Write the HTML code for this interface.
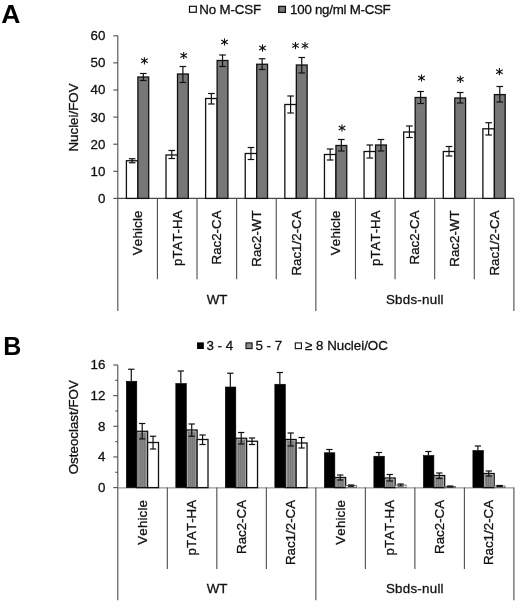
<!DOCTYPE html>
<html><head><meta charset="utf-8"><title>Figure</title>
<style>
html,body{margin:0;padding:0;background:#fff;}
body{width:520px;height:608px;overflow:hidden;}
svg{display:block;will-change:transform;font-family:"Liberation Sans",sans-serif;font-kerning:none;}
</style></head>
<body>
<svg width="520" height="608" viewBox="0 0 520 608">
<rect x="0" y="0" width="520" height="608" fill="#ffffff"/>
<defs><pattern id="hatch" width="2" height="2" patternUnits="userSpaceOnUse"><rect width="2" height="2" fill="#888888"/><rect width="1" height="2" fill="#787878"/></pattern></defs>
<text x="1.30" y="22.80" font-size="26.5" font-weight="bold" text-anchor="start" fill="#000" stroke="#000" stroke-width="0" letter-spacing="0">A</text>
<rect x="189.50" y="6.30" width="6.80" height="6.00" fill="#fff" stroke="#111111" stroke-width="1.2"/>
<text x="199.30" y="13.80" font-size="13.33" font-weight="normal" text-anchor="start" fill="#111" stroke="#111" stroke-width="0.3" letter-spacing="-0.15">No M-CSF</text>
<rect x="278.70" y="6.40" width="6.70" height="6.00" fill="#7a7a7a" stroke="#111111" stroke-width="1.3"/>
<text x="290.10" y="13.70" font-size="13.33" font-weight="normal" text-anchor="start" fill="#111" stroke="#111" stroke-width="0.3" letter-spacing="-0.27">100 ng/ml M-CSF</text>
<line x1="117.80" y1="35.80" x2="117.80" y2="311.00" stroke="#4c4c4c" stroke-width="1.1"/>
<line x1="113.30" y1="198.40" x2="117.80" y2="198.40" stroke="#4c4c4c" stroke-width="1.1"/>
<text x="105.30" y="202.80" font-size="13.33" font-weight="normal" text-anchor="end" fill="#111" stroke="#111" stroke-width="0.3" letter-spacing="0">0</text>
<line x1="113.30" y1="171.30" x2="117.80" y2="171.30" stroke="#4c4c4c" stroke-width="1.1"/>
<text x="105.30" y="175.70" font-size="13.33" font-weight="normal" text-anchor="end" fill="#111" stroke="#111" stroke-width="0.3" letter-spacing="0">10</text>
<line x1="113.30" y1="144.20" x2="117.80" y2="144.20" stroke="#4c4c4c" stroke-width="1.1"/>
<text x="105.30" y="148.60" font-size="13.33" font-weight="normal" text-anchor="end" fill="#111" stroke="#111" stroke-width="0.3" letter-spacing="0">20</text>
<line x1="113.30" y1="117.10" x2="117.80" y2="117.10" stroke="#4c4c4c" stroke-width="1.1"/>
<text x="105.30" y="121.50" font-size="13.33" font-weight="normal" text-anchor="end" fill="#111" stroke="#111" stroke-width="0.3" letter-spacing="0">30</text>
<line x1="113.30" y1="90.00" x2="117.80" y2="90.00" stroke="#4c4c4c" stroke-width="1.1"/>
<text x="105.30" y="94.40" font-size="13.33" font-weight="normal" text-anchor="end" fill="#111" stroke="#111" stroke-width="0.3" letter-spacing="0">40</text>
<line x1="113.30" y1="62.90" x2="117.80" y2="62.90" stroke="#4c4c4c" stroke-width="1.1"/>
<text x="105.30" y="67.30" font-size="13.33" font-weight="normal" text-anchor="end" fill="#111" stroke="#111" stroke-width="0.3" letter-spacing="0">50</text>
<line x1="113.30" y1="35.80" x2="117.80" y2="35.80" stroke="#4c4c4c" stroke-width="1.1"/>
<text x="105.30" y="40.20" font-size="13.33" font-weight="normal" text-anchor="end" fill="#111" stroke="#111" stroke-width="0.3" letter-spacing="0">60</text>
<text x="78.20" y="117.50" font-size="13.33" font-weight="normal" text-anchor="middle" fill="#111" stroke="#111" stroke-width="0.3" letter-spacing="0" transform="rotate(-90 78.20 117.50)">Nuclei/FOV</text>
<line x1="117.80" y1="198.40" x2="513.90" y2="198.40" stroke="#4c4c4c" stroke-width="1.1"/>
<line x1="157.41" y1="198.40" x2="157.41" y2="279.30" stroke="#4c4c4c" stroke-width="1.1"/>
<line x1="197.02" y1="198.40" x2="197.02" y2="279.30" stroke="#4c4c4c" stroke-width="1.1"/>
<line x1="236.63" y1="198.40" x2="236.63" y2="279.30" stroke="#4c4c4c" stroke-width="1.1"/>
<line x1="276.24" y1="198.40" x2="276.24" y2="279.30" stroke="#4c4c4c" stroke-width="1.1"/>
<line x1="315.85" y1="198.40" x2="315.85" y2="311.00" stroke="#4c4c4c" stroke-width="1.1"/>
<line x1="355.46" y1="198.40" x2="355.46" y2="279.30" stroke="#4c4c4c" stroke-width="1.1"/>
<line x1="395.07" y1="198.40" x2="395.07" y2="279.30" stroke="#4c4c4c" stroke-width="1.1"/>
<line x1="434.68" y1="198.40" x2="434.68" y2="279.30" stroke="#4c4c4c" stroke-width="1.1"/>
<line x1="474.29" y1="198.40" x2="474.29" y2="279.30" stroke="#4c4c4c" stroke-width="1.1"/>
<line x1="513.90" y1="198.40" x2="513.90" y2="311.00" stroke="#4c4c4c" stroke-width="1.1"/>
<rect x="126.40" y="160.75" width="11.50" height="37.65" fill="#fff" stroke="#111111" stroke-width="1.3"/>
<rect x="137.90" y="77.00" width="10.80" height="121.40" fill="#777777" stroke="#111111" stroke-width="1.3"/>
<line x1="132.15" y1="158.75" x2="132.15" y2="162.75" stroke="#111" stroke-width="1.2"/>
<line x1="128.85" y1="158.75" x2="135.45" y2="158.75" stroke="#111" stroke-width="1.2"/>
<line x1="128.85" y1="162.75" x2="135.45" y2="162.75" stroke="#111" stroke-width="1.2"/>
<line x1="143.30" y1="73.50" x2="143.30" y2="80.50" stroke="#111" stroke-width="1.2"/>
<line x1="140.00" y1="73.50" x2="146.60" y2="73.50" stroke="#111" stroke-width="1.2"/>
<line x1="140.00" y1="80.50" x2="146.60" y2="80.50" stroke="#111" stroke-width="1.2"/>
<rect x="166.01" y="155.00" width="11.50" height="43.40" fill="#fff" stroke="#111111" stroke-width="1.3"/>
<rect x="177.51" y="74.00" width="10.80" height="124.40" fill="#777777" stroke="#111111" stroke-width="1.3"/>
<line x1="171.76" y1="150.50" x2="171.76" y2="158.50" stroke="#111" stroke-width="1.2"/>
<line x1="168.46" y1="150.50" x2="175.06" y2="150.50" stroke="#111" stroke-width="1.2"/>
<line x1="168.46" y1="158.50" x2="175.06" y2="158.50" stroke="#111" stroke-width="1.2"/>
<line x1="182.91" y1="66.50" x2="182.91" y2="82.50" stroke="#111" stroke-width="1.2"/>
<line x1="179.61" y1="66.50" x2="186.21" y2="66.50" stroke="#111" stroke-width="1.2"/>
<line x1="179.61" y1="82.50" x2="186.21" y2="82.50" stroke="#111" stroke-width="1.2"/>
<rect x="205.62" y="98.50" width="11.50" height="99.90" fill="#fff" stroke="#111111" stroke-width="1.3"/>
<rect x="217.12" y="60.50" width="10.80" height="137.90" fill="#777777" stroke="#111111" stroke-width="1.3"/>
<line x1="211.37" y1="93.50" x2="211.37" y2="104.00" stroke="#111" stroke-width="1.2"/>
<line x1="208.07" y1="93.50" x2="214.67" y2="93.50" stroke="#111" stroke-width="1.2"/>
<line x1="208.07" y1="104.00" x2="214.67" y2="104.00" stroke="#111" stroke-width="1.2"/>
<line x1="222.52" y1="55.00" x2="222.52" y2="66.50" stroke="#111" stroke-width="1.2"/>
<line x1="219.22" y1="55.00" x2="225.82" y2="55.00" stroke="#111" stroke-width="1.2"/>
<line x1="219.22" y1="66.50" x2="225.82" y2="66.50" stroke="#111" stroke-width="1.2"/>
<rect x="245.23" y="153.50" width="11.50" height="44.90" fill="#fff" stroke="#111111" stroke-width="1.3"/>
<rect x="256.73" y="64.25" width="10.80" height="134.15" fill="#777777" stroke="#111111" stroke-width="1.3"/>
<line x1="250.98" y1="147.50" x2="250.98" y2="159.50" stroke="#111" stroke-width="1.2"/>
<line x1="247.68" y1="147.50" x2="254.28" y2="147.50" stroke="#111" stroke-width="1.2"/>
<line x1="247.68" y1="159.50" x2="254.28" y2="159.50" stroke="#111" stroke-width="1.2"/>
<line x1="262.13" y1="58.75" x2="262.13" y2="69.50" stroke="#111" stroke-width="1.2"/>
<line x1="258.83" y1="58.75" x2="265.43" y2="58.75" stroke="#111" stroke-width="1.2"/>
<line x1="258.83" y1="69.50" x2="265.43" y2="69.50" stroke="#111" stroke-width="1.2"/>
<rect x="284.84" y="104.50" width="11.50" height="93.90" fill="#fff" stroke="#111111" stroke-width="1.3"/>
<rect x="296.34" y="65.00" width="10.80" height="133.40" fill="#777777" stroke="#111111" stroke-width="1.3"/>
<line x1="290.59" y1="96.00" x2="290.59" y2="113.00" stroke="#111" stroke-width="1.2"/>
<line x1="287.29" y1="96.00" x2="293.89" y2="96.00" stroke="#111" stroke-width="1.2"/>
<line x1="287.29" y1="113.00" x2="293.89" y2="113.00" stroke="#111" stroke-width="1.2"/>
<line x1="301.74" y1="57.50" x2="301.74" y2="73.00" stroke="#111" stroke-width="1.2"/>
<line x1="298.44" y1="57.50" x2="305.04" y2="57.50" stroke="#111" stroke-width="1.2"/>
<line x1="298.44" y1="73.00" x2="305.04" y2="73.00" stroke="#111" stroke-width="1.2"/>
<rect x="324.45" y="154.50" width="11.50" height="43.90" fill="#fff" stroke="#111111" stroke-width="1.3"/>
<rect x="335.95" y="145.50" width="10.80" height="52.90" fill="#777777" stroke="#111111" stroke-width="1.3"/>
<line x1="330.20" y1="149.00" x2="330.20" y2="160.00" stroke="#111" stroke-width="1.2"/>
<line x1="326.90" y1="149.00" x2="333.50" y2="149.00" stroke="#111" stroke-width="1.2"/>
<line x1="326.90" y1="160.00" x2="333.50" y2="160.00" stroke="#111" stroke-width="1.2"/>
<line x1="341.35" y1="139.50" x2="341.35" y2="151.00" stroke="#111" stroke-width="1.2"/>
<line x1="338.05" y1="139.50" x2="344.65" y2="139.50" stroke="#111" stroke-width="1.2"/>
<line x1="338.05" y1="151.00" x2="344.65" y2="151.00" stroke="#111" stroke-width="1.2"/>
<rect x="364.06" y="151.50" width="11.50" height="46.90" fill="#fff" stroke="#111111" stroke-width="1.3"/>
<rect x="375.56" y="145.00" width="10.80" height="53.40" fill="#777777" stroke="#111111" stroke-width="1.3"/>
<line x1="369.81" y1="145.00" x2="369.81" y2="158.00" stroke="#111" stroke-width="1.2"/>
<line x1="366.51" y1="145.00" x2="373.11" y2="145.00" stroke="#111" stroke-width="1.2"/>
<line x1="366.51" y1="158.00" x2="373.11" y2="158.00" stroke="#111" stroke-width="1.2"/>
<line x1="380.96" y1="139.50" x2="380.96" y2="151.00" stroke="#111" stroke-width="1.2"/>
<line x1="377.66" y1="139.50" x2="384.26" y2="139.50" stroke="#111" stroke-width="1.2"/>
<line x1="377.66" y1="151.00" x2="384.26" y2="151.00" stroke="#111" stroke-width="1.2"/>
<rect x="403.67" y="132.00" width="11.50" height="66.40" fill="#fff" stroke="#111111" stroke-width="1.3"/>
<rect x="415.17" y="97.50" width="10.80" height="100.90" fill="#777777" stroke="#111111" stroke-width="1.3"/>
<line x1="409.42" y1="126.00" x2="409.42" y2="137.50" stroke="#111" stroke-width="1.2"/>
<line x1="406.12" y1="126.00" x2="412.72" y2="126.00" stroke="#111" stroke-width="1.2"/>
<line x1="406.12" y1="137.50" x2="412.72" y2="137.50" stroke="#111" stroke-width="1.2"/>
<line x1="420.57" y1="91.50" x2="420.57" y2="103.50" stroke="#111" stroke-width="1.2"/>
<line x1="417.27" y1="91.50" x2="423.87" y2="91.50" stroke="#111" stroke-width="1.2"/>
<line x1="417.27" y1="103.50" x2="423.87" y2="103.50" stroke="#111" stroke-width="1.2"/>
<rect x="443.28" y="151.50" width="11.50" height="46.90" fill="#fff" stroke="#111111" stroke-width="1.3"/>
<rect x="454.78" y="98.00" width="10.80" height="100.40" fill="#777777" stroke="#111111" stroke-width="1.3"/>
<line x1="449.03" y1="146.50" x2="449.03" y2="156.00" stroke="#111" stroke-width="1.2"/>
<line x1="445.73" y1="146.50" x2="452.33" y2="146.50" stroke="#111" stroke-width="1.2"/>
<line x1="445.73" y1="156.00" x2="452.33" y2="156.00" stroke="#111" stroke-width="1.2"/>
<line x1="460.18" y1="92.50" x2="460.18" y2="103.00" stroke="#111" stroke-width="1.2"/>
<line x1="456.88" y1="92.50" x2="463.48" y2="92.50" stroke="#111" stroke-width="1.2"/>
<line x1="456.88" y1="103.00" x2="463.48" y2="103.00" stroke="#111" stroke-width="1.2"/>
<rect x="482.89" y="128.80" width="11.50" height="69.60" fill="#fff" stroke="#111111" stroke-width="1.3"/>
<rect x="494.39" y="94.60" width="10.80" height="103.80" fill="#777777" stroke="#111111" stroke-width="1.3"/>
<line x1="488.64" y1="122.70" x2="488.64" y2="135.00" stroke="#111" stroke-width="1.2"/>
<line x1="485.34" y1="122.70" x2="491.94" y2="122.70" stroke="#111" stroke-width="1.2"/>
<line x1="485.34" y1="135.00" x2="491.94" y2="135.00" stroke="#111" stroke-width="1.2"/>
<line x1="499.79" y1="86.50" x2="499.79" y2="102.00" stroke="#111" stroke-width="1.2"/>
<line x1="496.49" y1="86.50" x2="503.09" y2="86.50" stroke="#111" stroke-width="1.2"/>
<line x1="496.49" y1="102.00" x2="503.09" y2="102.00" stroke="#111" stroke-width="1.2"/>
<line x1="144.40" y1="57.20" x2="144.40" y2="64.40" stroke="#111" stroke-width="1.1"/>
<line x1="141.09" y1="58.82" x2="147.71" y2="62.78" stroke="#111" stroke-width="1.1"/>
<line x1="141.09" y1="62.78" x2="147.71" y2="58.82" stroke="#111" stroke-width="1.1"/>
<line x1="183.70" y1="51.90" x2="183.70" y2="59.10" stroke="#111" stroke-width="1.1"/>
<line x1="180.39" y1="53.52" x2="187.01" y2="57.48" stroke="#111" stroke-width="1.1"/>
<line x1="180.39" y1="57.48" x2="187.01" y2="53.52" stroke="#111" stroke-width="1.1"/>
<line x1="224.50" y1="38.40" x2="224.50" y2="45.60" stroke="#111" stroke-width="1.1"/>
<line x1="221.19" y1="40.02" x2="227.81" y2="43.98" stroke="#111" stroke-width="1.1"/>
<line x1="221.19" y1="43.98" x2="227.81" y2="40.02" stroke="#111" stroke-width="1.1"/>
<line x1="262.50" y1="44.40" x2="262.50" y2="51.60" stroke="#111" stroke-width="1.1"/>
<line x1="259.19" y1="46.02" x2="265.81" y2="49.98" stroke="#111" stroke-width="1.1"/>
<line x1="259.19" y1="49.98" x2="265.81" y2="46.02" stroke="#111" stroke-width="1.1"/>
<line x1="295.50" y1="42.00" x2="295.50" y2="49.20" stroke="#111" stroke-width="1.1"/>
<line x1="292.19" y1="43.62" x2="298.81" y2="47.58" stroke="#111" stroke-width="1.1"/>
<line x1="292.19" y1="47.58" x2="298.81" y2="43.62" stroke="#111" stroke-width="1.1"/>
<line x1="305.00" y1="42.00" x2="305.00" y2="49.20" stroke="#111" stroke-width="1.1"/>
<line x1="301.69" y1="43.62" x2="308.31" y2="47.58" stroke="#111" stroke-width="1.1"/>
<line x1="301.69" y1="47.58" x2="308.31" y2="43.62" stroke="#111" stroke-width="1.1"/>
<line x1="342.00" y1="124.40" x2="342.00" y2="131.60" stroke="#111" stroke-width="1.1"/>
<line x1="338.69" y1="126.02" x2="345.31" y2="129.98" stroke="#111" stroke-width="1.1"/>
<line x1="338.69" y1="129.98" x2="345.31" y2="126.02" stroke="#111" stroke-width="1.1"/>
<line x1="421.50" y1="74.40" x2="421.50" y2="81.60" stroke="#111" stroke-width="1.1"/>
<line x1="418.19" y1="76.02" x2="424.81" y2="79.98" stroke="#111" stroke-width="1.1"/>
<line x1="418.19" y1="79.98" x2="424.81" y2="76.02" stroke="#111" stroke-width="1.1"/>
<line x1="460.30" y1="75.70" x2="460.30" y2="82.90" stroke="#111" stroke-width="1.1"/>
<line x1="456.99" y1="77.32" x2="463.61" y2="81.28" stroke="#111" stroke-width="1.1"/>
<line x1="456.99" y1="81.28" x2="463.61" y2="77.32" stroke="#111" stroke-width="1.1"/>
<line x1="499.40" y1="68.10" x2="499.40" y2="75.30" stroke="#111" stroke-width="1.1"/>
<line x1="496.09" y1="69.72" x2="502.71" y2="73.68" stroke="#111" stroke-width="1.1"/>
<line x1="496.09" y1="73.68" x2="502.71" y2="69.72" stroke="#111" stroke-width="1.1"/>
<text x="142.20" y="210.40" font-size="13.33" font-weight="normal" text-anchor="end" fill="#111" stroke="#111" stroke-width="0.3" letter-spacing="0.15" transform="rotate(-90 142.20 210.40)">Vehicle</text>
<text x="181.81" y="210.40" font-size="13.33" font-weight="normal" text-anchor="end" fill="#111" stroke="#111" stroke-width="0.3" letter-spacing="0" transform="rotate(-90 181.81 210.40)">pTAT-HA</text>
<text x="221.42" y="210.40" font-size="13.33" font-weight="normal" text-anchor="end" fill="#111" stroke="#111" stroke-width="0.3" letter-spacing="0" transform="rotate(-90 221.42 210.40)">Rac2-CA</text>
<text x="261.04" y="210.40" font-size="13.33" font-weight="normal" text-anchor="end" fill="#111" stroke="#111" stroke-width="0.3" letter-spacing="0" transform="rotate(-90 261.04 210.40)">Rac2-WT</text>
<text x="300.65" y="210.40" font-size="13.33" font-weight="normal" text-anchor="end" fill="#111" stroke="#111" stroke-width="0.3" letter-spacing="0" transform="rotate(-90 300.65 210.40)">Rac1/2-CA</text>
<text x="340.25" y="210.40" font-size="13.33" font-weight="normal" text-anchor="end" fill="#111" stroke="#111" stroke-width="0.3" letter-spacing="0.15" transform="rotate(-90 340.25 210.40)">Vehicle</text>
<text x="379.87" y="210.40" font-size="13.33" font-weight="normal" text-anchor="end" fill="#111" stroke="#111" stroke-width="0.3" letter-spacing="0" transform="rotate(-90 379.87 210.40)">pTAT-HA</text>
<text x="419.48" y="210.40" font-size="13.33" font-weight="normal" text-anchor="end" fill="#111" stroke="#111" stroke-width="0.3" letter-spacing="0" transform="rotate(-90 419.48 210.40)">Rac2-CA</text>
<text x="459.09" y="210.40" font-size="13.33" font-weight="normal" text-anchor="end" fill="#111" stroke="#111" stroke-width="0.3" letter-spacing="0" transform="rotate(-90 459.09 210.40)">Rac2-WT</text>
<text x="498.70" y="210.40" font-size="13.33" font-weight="normal" text-anchor="end" fill="#111" stroke="#111" stroke-width="0.3" letter-spacing="0" transform="rotate(-90 498.70 210.40)">Rac1/2-CA</text>
<text x="217.00" y="304.00" font-size="13.33" font-weight="normal" text-anchor="middle" fill="#111" stroke="#111" stroke-width="0.3" letter-spacing="0">WT</text>
<text x="414.90" y="304.00" font-size="13.33" font-weight="normal" text-anchor="middle" fill="#111" stroke="#111" stroke-width="0.3" letter-spacing="0.25">Sbds-null</text>
<text x="3.20" y="354.70" font-size="25" font-weight="bold" text-anchor="start" fill="#000" stroke="#000" stroke-width="0" letter-spacing="0">B</text>
<rect x="197.60" y="342.90" width="5.70" height="5.60" fill="#000" stroke="#000" stroke-width="1"/>
<text x="206.50" y="350.20" font-size="13.33" font-weight="normal" text-anchor="start" fill="#111" stroke="#111" stroke-width="0.3" letter-spacing="0">3 - 4</text>
<rect x="246.00" y="342.90" width="6.10" height="5.70" fill="#8a8a8a" stroke="#111111" stroke-width="1.1"/>
<text x="255.50" y="350.20" font-size="13.33" font-weight="normal" text-anchor="start" fill="#111" stroke="#111" stroke-width="0.3" letter-spacing="0">5 - 7</text>
<rect x="295.30" y="342.90" width="6.10" height="5.70" fill="#fff" stroke="#111111" stroke-width="1.1"/>
<text x="305.00" y="350.20" font-size="13.33" font-weight="normal" text-anchor="start" fill="#111" stroke="#111" stroke-width="0.3" letter-spacing="0">≥ 8 Nuclei/OC</text>
<line x1="117.80" y1="365.00" x2="117.80" y2="600.30" stroke="#4c4c4c" stroke-width="1.1"/>
<line x1="113.30" y1="487.60" x2="117.80" y2="487.60" stroke="#4c4c4c" stroke-width="1.1"/>
<text x="105.30" y="492.00" font-size="13.33" font-weight="normal" text-anchor="end" fill="#111" stroke="#111" stroke-width="0.3" letter-spacing="0">0</text>
<line x1="115.30" y1="472.28" x2="117.80" y2="472.28" stroke="#4c4c4c" stroke-width="1.1"/>
<line x1="113.30" y1="456.95" x2="117.80" y2="456.95" stroke="#4c4c4c" stroke-width="1.1"/>
<text x="105.30" y="461.35" font-size="13.33" font-weight="normal" text-anchor="end" fill="#111" stroke="#111" stroke-width="0.3" letter-spacing="0">4</text>
<line x1="115.30" y1="441.62" x2="117.80" y2="441.62" stroke="#4c4c4c" stroke-width="1.1"/>
<line x1="113.30" y1="426.30" x2="117.80" y2="426.30" stroke="#4c4c4c" stroke-width="1.1"/>
<text x="105.30" y="430.70" font-size="13.33" font-weight="normal" text-anchor="end" fill="#111" stroke="#111" stroke-width="0.3" letter-spacing="0">8</text>
<line x1="115.30" y1="410.98" x2="117.80" y2="410.98" stroke="#4c4c4c" stroke-width="1.1"/>
<line x1="113.30" y1="395.65" x2="117.80" y2="395.65" stroke="#4c4c4c" stroke-width="1.1"/>
<text x="105.30" y="400.05" font-size="13.33" font-weight="normal" text-anchor="end" fill="#111" stroke="#111" stroke-width="0.3" letter-spacing="0">12</text>
<line x1="115.30" y1="380.32" x2="117.80" y2="380.32" stroke="#4c4c4c" stroke-width="1.1"/>
<line x1="113.30" y1="365.00" x2="117.80" y2="365.00" stroke="#4c4c4c" stroke-width="1.1"/>
<text x="105.30" y="369.40" font-size="13.33" font-weight="normal" text-anchor="end" fill="#111" stroke="#111" stroke-width="0.3" letter-spacing="0">16</text>
<text x="78.00" y="427.20" font-size="13.33" font-weight="normal" text-anchor="middle" fill="#111" stroke="#111" stroke-width="0.3" letter-spacing="0" transform="rotate(-90 78.00 427.20)">Osteoclast/FOV</text>
<line x1="117.30" y1="487.90" x2="513.90" y2="487.90" stroke="#808080" stroke-width="1.0"/>
<line x1="167.31" y1="487.60" x2="167.31" y2="569.00" stroke="#4c4c4c" stroke-width="1.1"/>
<line x1="216.82" y1="487.60" x2="216.82" y2="569.00" stroke="#4c4c4c" stroke-width="1.1"/>
<line x1="266.34" y1="487.60" x2="266.34" y2="569.00" stroke="#4c4c4c" stroke-width="1.1"/>
<line x1="315.85" y1="487.60" x2="315.85" y2="600.30" stroke="#4c4c4c" stroke-width="1.1"/>
<line x1="365.36" y1="487.60" x2="365.36" y2="569.00" stroke="#4c4c4c" stroke-width="1.1"/>
<line x1="414.88" y1="487.60" x2="414.88" y2="569.00" stroke="#4c4c4c" stroke-width="1.1"/>
<line x1="464.39" y1="487.60" x2="464.39" y2="569.00" stroke="#4c4c4c" stroke-width="1.1"/>
<line x1="513.90" y1="487.60" x2="513.90" y2="600.30" stroke="#4c4c4c" stroke-width="1.1"/>
<rect x="126.30" y="381.25" width="10.50" height="106.35" fill="#000" stroke="#000" stroke-width="0.6"/>
<rect x="136.80" y="431.30" width="10.80" height="56.30" fill="url(#hatch)" stroke="#111111" stroke-width="1.3"/>
<path d="M137.90 487.00 V432.40 H146.50 V487.00" fill="none" stroke="#b4b4b4" stroke-width="0.8"/>
<rect x="147.60" y="442.50" width="10.90" height="45.10" fill="#fff" stroke="#111111" stroke-width="1.3"/>
<line x1="131.30" y1="369.25" x2="131.30" y2="381.25" stroke="#111" stroke-width="1.2"/>
<line x1="128.15" y1="369.25" x2="134.45" y2="369.25" stroke="#111" stroke-width="1.2"/>
<line x1="142.20" y1="423.50" x2="142.20" y2="438.90" stroke="#111" stroke-width="1.2"/>
<line x1="139.05" y1="423.50" x2="145.35" y2="423.50" stroke="#111" stroke-width="1.2"/>
<line x1="139.05" y1="438.90" x2="145.35" y2="438.90" stroke="#111" stroke-width="1.2"/>
<line x1="153.05" y1="436.25" x2="153.05" y2="449.00" stroke="#111" stroke-width="1.2"/>
<line x1="149.90" y1="436.25" x2="156.20" y2="436.25" stroke="#111" stroke-width="1.2"/>
<line x1="149.90" y1="449.00" x2="156.20" y2="449.00" stroke="#111" stroke-width="1.2"/>
<rect x="175.81" y="383.50" width="10.50" height="104.10" fill="#000" stroke="#000" stroke-width="0.6"/>
<rect x="186.31" y="430.00" width="10.80" height="57.60" fill="url(#hatch)" stroke="#111111" stroke-width="1.3"/>
<path d="M187.41 487.00 V431.10 H196.01 V487.00" fill="none" stroke="#b4b4b4" stroke-width="0.8"/>
<rect x="197.11" y="439.50" width="10.90" height="48.10" fill="#fff" stroke="#111111" stroke-width="1.3"/>
<line x1="180.81" y1="371.00" x2="180.81" y2="383.50" stroke="#111" stroke-width="1.2"/>
<line x1="177.66" y1="371.00" x2="183.96" y2="371.00" stroke="#111" stroke-width="1.2"/>
<line x1="191.71" y1="424.00" x2="191.71" y2="436.25" stroke="#111" stroke-width="1.2"/>
<line x1="188.56" y1="424.00" x2="194.86" y2="424.00" stroke="#111" stroke-width="1.2"/>
<line x1="188.56" y1="436.25" x2="194.86" y2="436.25" stroke="#111" stroke-width="1.2"/>
<line x1="202.56" y1="435.00" x2="202.56" y2="444.50" stroke="#111" stroke-width="1.2"/>
<line x1="199.41" y1="435.00" x2="205.71" y2="435.00" stroke="#111" stroke-width="1.2"/>
<line x1="199.41" y1="444.50" x2="205.71" y2="444.50" stroke="#111" stroke-width="1.2"/>
<rect x="225.32" y="387.00" width="10.50" height="100.60" fill="#000" stroke="#000" stroke-width="0.6"/>
<rect x="235.82" y="438.25" width="10.80" height="49.35" fill="url(#hatch)" stroke="#111111" stroke-width="1.3"/>
<path d="M236.92 487.00 V439.35 H245.53 V487.00" fill="none" stroke="#b4b4b4" stroke-width="0.8"/>
<rect x="246.62" y="441.25" width="10.90" height="46.35" fill="#fff" stroke="#111111" stroke-width="1.3"/>
<line x1="230.32" y1="373.25" x2="230.32" y2="387.00" stroke="#111" stroke-width="1.2"/>
<line x1="227.17" y1="373.25" x2="233.47" y2="373.25" stroke="#111" stroke-width="1.2"/>
<line x1="241.22" y1="432.50" x2="241.22" y2="444.00" stroke="#111" stroke-width="1.2"/>
<line x1="238.07" y1="432.50" x2="244.38" y2="432.50" stroke="#111" stroke-width="1.2"/>
<line x1="238.07" y1="444.00" x2="244.38" y2="444.00" stroke="#111" stroke-width="1.2"/>
<line x1="252.07" y1="438.00" x2="252.07" y2="444.50" stroke="#111" stroke-width="1.2"/>
<line x1="248.92" y1="438.00" x2="255.22" y2="438.00" stroke="#111" stroke-width="1.2"/>
<line x1="248.92" y1="444.50" x2="255.22" y2="444.50" stroke="#111" stroke-width="1.2"/>
<rect x="274.84" y="384.25" width="10.50" height="103.35" fill="#000" stroke="#000" stroke-width="0.6"/>
<rect x="285.34" y="439.50" width="10.80" height="48.10" fill="url(#hatch)" stroke="#111111" stroke-width="1.3"/>
<path d="M286.44 487.00 V440.60 H295.04 V487.00" fill="none" stroke="#b4b4b4" stroke-width="0.8"/>
<rect x="296.14" y="443.00" width="10.90" height="44.60" fill="#fff" stroke="#111111" stroke-width="1.3"/>
<line x1="279.84" y1="372.50" x2="279.84" y2="384.25" stroke="#111" stroke-width="1.2"/>
<line x1="276.69" y1="372.50" x2="282.99" y2="372.50" stroke="#111" stroke-width="1.2"/>
<line x1="290.74" y1="433.00" x2="290.74" y2="446.00" stroke="#111" stroke-width="1.2"/>
<line x1="287.59" y1="433.00" x2="293.89" y2="433.00" stroke="#111" stroke-width="1.2"/>
<line x1="287.59" y1="446.00" x2="293.89" y2="446.00" stroke="#111" stroke-width="1.2"/>
<line x1="301.59" y1="437.50" x2="301.59" y2="448.00" stroke="#111" stroke-width="1.2"/>
<line x1="298.44" y1="437.50" x2="304.74" y2="437.50" stroke="#111" stroke-width="1.2"/>
<line x1="298.44" y1="448.00" x2="304.74" y2="448.00" stroke="#111" stroke-width="1.2"/>
<rect x="324.35" y="452.75" width="10.50" height="34.85" fill="#000" stroke="#000" stroke-width="0.6"/>
<rect x="334.85" y="477.50" width="10.80" height="10.10" fill="url(#hatch)" stroke="#111111" stroke-width="1.3"/>
<path d="M335.95 487.00 V478.60 H344.55 V487.00" fill="none" stroke="#b4b4b4" stroke-width="0.8"/>
<rect x="345.65" y="485.50" width="10.90" height="2.10" fill="#fff" stroke="#555" stroke-width="0.8"/>
<line x1="329.35" y1="449.50" x2="329.35" y2="452.75" stroke="#111" stroke-width="1.2"/>
<line x1="326.20" y1="449.50" x2="332.50" y2="449.50" stroke="#111" stroke-width="1.2"/>
<line x1="340.25" y1="475.00" x2="340.25" y2="480.00" stroke="#111" stroke-width="1.2"/>
<line x1="337.10" y1="475.00" x2="343.40" y2="475.00" stroke="#111" stroke-width="1.2"/>
<line x1="337.10" y1="480.00" x2="343.40" y2="480.00" stroke="#111" stroke-width="1.2"/>
<line x1="351.10" y1="485.00" x2="351.10" y2="486.30" stroke="#111" stroke-width="1.2"/>
<line x1="347.95" y1="485.00" x2="354.25" y2="485.00" stroke="#111" stroke-width="1.2"/>
<line x1="347.95" y1="486.30" x2="354.25" y2="486.30" stroke="#111" stroke-width="1.2"/>
<rect x="373.86" y="456.25" width="10.50" height="31.35" fill="#000" stroke="#000" stroke-width="0.6"/>
<rect x="384.36" y="478.00" width="10.80" height="9.60" fill="url(#hatch)" stroke="#111111" stroke-width="1.3"/>
<path d="M385.46 487.00 V479.10 H394.06 V487.00" fill="none" stroke="#b4b4b4" stroke-width="0.8"/>
<rect x="395.16" y="485.00" width="10.90" height="2.60" fill="#fff" stroke="#555" stroke-width="0.8"/>
<line x1="378.86" y1="452.50" x2="378.86" y2="456.25" stroke="#111" stroke-width="1.2"/>
<line x1="375.71" y1="452.50" x2="382.01" y2="452.50" stroke="#111" stroke-width="1.2"/>
<line x1="389.76" y1="474.50" x2="389.76" y2="481.00" stroke="#111" stroke-width="1.2"/>
<line x1="386.61" y1="474.50" x2="392.91" y2="474.50" stroke="#111" stroke-width="1.2"/>
<line x1="386.61" y1="481.00" x2="392.91" y2="481.00" stroke="#111" stroke-width="1.2"/>
<line x1="400.61" y1="484.00" x2="400.61" y2="486.00" stroke="#111" stroke-width="1.2"/>
<line x1="397.46" y1="484.00" x2="403.76" y2="484.00" stroke="#111" stroke-width="1.2"/>
<line x1="397.46" y1="486.00" x2="403.76" y2="486.00" stroke="#111" stroke-width="1.2"/>
<rect x="423.38" y="455.50" width="10.50" height="32.10" fill="#000" stroke="#000" stroke-width="0.6"/>
<rect x="433.88" y="475.50" width="10.80" height="12.10" fill="url(#hatch)" stroke="#111111" stroke-width="1.3"/>
<path d="M434.98 487.00 V476.60 H443.57 V487.00" fill="none" stroke="#b4b4b4" stroke-width="0.8"/>
<rect x="444.68" y="486.50" width="10.90" height="1.10" fill="#fff" stroke="#555" stroke-width="0.8"/>
<line x1="428.38" y1="451.50" x2="428.38" y2="455.50" stroke="#111" stroke-width="1.2"/>
<line x1="425.23" y1="451.50" x2="431.52" y2="451.50" stroke="#111" stroke-width="1.2"/>
<line x1="439.27" y1="473.00" x2="439.27" y2="478.50" stroke="#111" stroke-width="1.2"/>
<line x1="436.12" y1="473.00" x2="442.42" y2="473.00" stroke="#111" stroke-width="1.2"/>
<line x1="436.12" y1="478.50" x2="442.42" y2="478.50" stroke="#111" stroke-width="1.2"/>
<line x1="450.12" y1="486.00" x2="450.12" y2="487.00" stroke="#111" stroke-width="1.2"/>
<line x1="446.98" y1="486.00" x2="453.27" y2="486.00" stroke="#111" stroke-width="1.2"/>
<line x1="446.98" y1="487.00" x2="453.27" y2="487.00" stroke="#111" stroke-width="1.2"/>
<rect x="472.89" y="450.50" width="10.50" height="37.10" fill="#000" stroke="#000" stroke-width="0.6"/>
<rect x="483.39" y="473.50" width="10.80" height="14.10" fill="url(#hatch)" stroke="#111111" stroke-width="1.3"/>
<path d="M484.49 487.00 V474.60 H493.09 V487.00" fill="none" stroke="#b4b4b4" stroke-width="0.8"/>
<rect x="494.19" y="486.00" width="10.90" height="1.60" fill="#fff" stroke="#555" stroke-width="0.8"/>
<line x1="477.89" y1="446.00" x2="477.89" y2="450.50" stroke="#111" stroke-width="1.2"/>
<line x1="474.74" y1="446.00" x2="481.04" y2="446.00" stroke="#111" stroke-width="1.2"/>
<line x1="488.79" y1="471.00" x2="488.79" y2="476.00" stroke="#111" stroke-width="1.2"/>
<line x1="485.64" y1="471.00" x2="491.94" y2="471.00" stroke="#111" stroke-width="1.2"/>
<line x1="485.64" y1="476.00" x2="491.94" y2="476.00" stroke="#111" stroke-width="1.2"/>
<line x1="499.64" y1="485.50" x2="499.64" y2="486.50" stroke="#111" stroke-width="1.2"/>
<line x1="496.49" y1="485.50" x2="502.79" y2="485.50" stroke="#111" stroke-width="1.2"/>
<line x1="496.49" y1="486.50" x2="502.79" y2="486.50" stroke="#111" stroke-width="1.2"/>
<text x="146.76" y="499.90" font-size="13.33" font-weight="normal" text-anchor="end" fill="#111" stroke="#111" stroke-width="0.3" letter-spacing="0.15" transform="rotate(-90 146.76 499.90)">Vehicle</text>
<text x="196.27" y="499.90" font-size="13.33" font-weight="normal" text-anchor="end" fill="#111" stroke="#111" stroke-width="0.3" letter-spacing="0" transform="rotate(-90 196.27 499.90)">pTAT-HA</text>
<text x="245.78" y="499.90" font-size="13.33" font-weight="normal" text-anchor="end" fill="#111" stroke="#111" stroke-width="0.3" letter-spacing="0" transform="rotate(-90 245.78 499.90)">Rac2-CA</text>
<text x="295.29" y="499.90" font-size="13.33" font-weight="normal" text-anchor="end" fill="#111" stroke="#111" stroke-width="0.3" letter-spacing="0" transform="rotate(-90 295.29 499.90)">Rac1/2-CA</text>
<text x="344.81" y="499.90" font-size="13.33" font-weight="normal" text-anchor="end" fill="#111" stroke="#111" stroke-width="0.3" letter-spacing="0.15" transform="rotate(-90 344.81 499.90)">Vehicle</text>
<text x="394.32" y="499.90" font-size="13.33" font-weight="normal" text-anchor="end" fill="#111" stroke="#111" stroke-width="0.3" letter-spacing="0" transform="rotate(-90 394.32 499.90)">pTAT-HA</text>
<text x="443.83" y="499.90" font-size="13.33" font-weight="normal" text-anchor="end" fill="#111" stroke="#111" stroke-width="0.3" letter-spacing="0" transform="rotate(-90 443.83 499.90)">Rac2-CA</text>
<text x="493.34" y="499.90" font-size="13.33" font-weight="normal" text-anchor="end" fill="#111" stroke="#111" stroke-width="0.3" letter-spacing="0" transform="rotate(-90 493.34 499.90)">Rac1/2-CA</text>
<text x="217.00" y="593.00" font-size="13.33" font-weight="normal" text-anchor="middle" fill="#111" stroke="#111" stroke-width="0.3" letter-spacing="0">WT</text>
<text x="414.90" y="593.00" font-size="13.33" font-weight="normal" text-anchor="middle" fill="#111" stroke="#111" stroke-width="0.3" letter-spacing="0.25">Sbds-null</text>
</svg>
</body></html>
